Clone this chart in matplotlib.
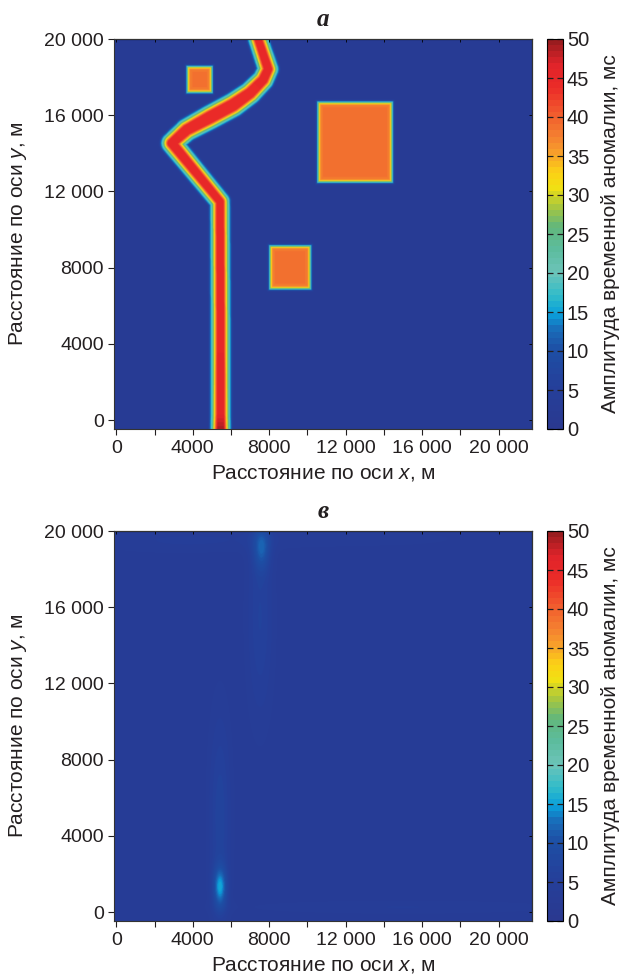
import numpy as np
import matplotlib
matplotlib.use('Agg')
import matplotlib.pyplot as plt
from matplotlib.colors import LinearSegmentedColormap

plt.rcParams['font.family'] = ['Liberation Sans', 'DejaVu Sans']
plt.rcParams['mathtext.fontset'] = 'custom'
plt.rcParams['mathtext.it'] = 'Liberation Sans:italic'
plt.rcParams['mathtext.rm'] = 'Liberation Sans'
TXT = '#231f20'

# extent of the grid, m
x_range = [-120, 21750]
y_range = [-470, 20000]

# ticks
tick_vals = [0, 4000, 8000, 12000, 16000, 20000]
tick_labels = ['0', '4000', '8000', '12 000', '16 000', '20 000']
minor_x = [2000, 6000, 10000, 14000, 18000]
cbar_ticks = [0, 5, 10, 15, 20, 25, 30, 35, 40, 45, 50]

# panel a: model - winding channel (centre line) and three blocks
river_x = [5450, 5450, 5450, 5420, 2900, 3680, 4900, 6110, 6990, 7680, 7940, 7420]
river_y = [-470, 300, 5000, 11470, 14540, 15240, 15900, 16550, 17170, 17870, 18430, 20000]
river_amp = [49, 46, 45, 45, 45, 44, 44, 44, 44, 45, 45, 45]
river_w = [680, 680, 680, 680, 720, 760, 800, 800, 760, 720, 700, 680]

rect_x0 = [3700, 10550, 8030]
rect_x1 = [5000, 14440, 10160]
rect_y0 = [17200, 12490, 6880]
rect_y1 = [18570, 16690, 9140]
rect_amp = [38.5, 38.5, 38.5]
bg_a = 3.0

# panel v: residual - weak blobs
blob_x = [5420, 5420, 7600, 7520, 15000, 3000, 12000]
blob_y = [1300, 5000, 19100, 15500, 250, 19500, 19600]
blob_sx = [240, 400, 300, 480, 6000, 3500, 6000]
blob_sy = [750, 3800, 800, 3800, 250, 500, 400]
blob_amp = [10.0, 3.5, 6.5, 3.0, 1.4, 1.2, 0.9]
bg_v = 3.3

# colormap
cm_vals = [0, 5, 10, 12.5, 14.5, 17, 20, 23, 26, 28.5, 31, 33, 35.5, 38, 41, 44, 47, 50]
cm_cols = ['#2a3990', '#253f9a', '#1d4fa5', '#1a6ab8', '#0a9fdb', '#31bcc9',
           '#6cc4b9', '#5cbc9d', '#62b77b', '#a6c640', '#f1e013', '#fcd116',
           '#f7a12b', '#f47c30', '#f0562d', '#ec2c28', '#e0232a', '#9a1c1f']
cmap = LinearSegmentedColormap.from_list(
    'anom', list(zip(np.array(cm_vals) / 50.0, cm_cols)), N=64)

gx = np.linspace(x_range[0], x_range[1], 800)
gy = np.linspace(y_range[0], y_range[1], 800)
X, Y = np.meshgrid(gx, gy)

# channel: distance to the centre polyline
dmin = np.full(X.shape, 1e9)
amp = np.zeros(X.shape)
wid = np.zeros(X.shape)
for i in range(len(river_x) - 1):
    x0, y0, x1, y1 = river_x[i], river_y[i], river_x[i + 1], river_y[i + 1]
    dx, dy = x1 - x0, y1 - y0
    t = np.clip(((X - x0) * dx + (Y - y0) * dy) / (dx * dx + dy * dy), 0, 1)
    d = np.hypot(X - (x0 + t * dx), Y - (y0 + t * dy))
    m = d < dmin
    dmin[m] = d[m]
    amp[m] = (river_amp[i] + t * (river_amp[i + 1] - river_amp[i]))[m]
    wid[m] = (river_w[i] + t * (river_w[i + 1] - river_w[i]))[m]
river = amp * np.clip((wid - dmin) / 520.0, 0, 1)

blocks = np.zeros(X.shape)
for x0, x1, y0, y1, a in zip(rect_x0, rect_x1, rect_y0, rect_y1, rect_amp):
    din = np.minimum.reduce([X - x0, x1 - X, Y - y0, y1 - Y])
    s = 1.0 / (1.0 + np.exp(-din / 60.0))
    blocks = np.maximum(blocks, s * (a + 3.5 * np.exp(-(np.clip(din, 0, None) / 160.0) ** 2)))

field_a = np.maximum(bg_a, np.maximum(river, blocks))

field_v = np.full(X.shape, bg_v)
for bx, by, sx, sy, a in zip(blob_x, blob_y, blob_sx, blob_sy, blob_amp):
    field_v += a * np.exp(-0.5 * (((X - bx) / sx) ** 2 + ((Y - by) / sy) ** 2))

fig = plt.figure(figsize=(6.21, 9.77), dpi=100)
W, H = 621.0, 977.0


def panel(field, top, title):
    ax = fig.add_axes([114 / W, 1 - (top + 390) / H, 418 / W, 390 / H])
    cax = fig.add_axes([546.7 / W, 1 - (top + 390) / H, 16 / W, 390 / H])
    im = ax.imshow(field, origin='lower', cmap=cmap, vmin=0, vmax=50,
                   extent=[x_range[0], x_range[1], y_range[0], y_range[1]],
                   aspect='auto', interpolation='bilinear')
    ax.set_xlim(x_range)
    ax.set_ylim(y_range)
    ax.set_xticks(tick_vals)
    ax.set_xticklabels(tick_labels)
    ax.set_xticks(minor_x, minor=True)
    ax.set_yticks(tick_vals)
    ax.set_yticklabels(tick_labels)
    ax.tick_params(which='both', direction='out', length=4.3, width=0.8,
                   labelsize=14, colors=TXT, pad=3)
    ax.tick_params(axis='x', which='both', pad=3.5)
    for sp in ax.spines.values():
        sp.set_linewidth(0.8)
        sp.set_color('#333333')
    sx = ax.secondary_xaxis('top')
    sx.set_xticks(tick_vals + minor_x)
    sx.tick_params(direction='in', length=2.5, width=0.6, labeltop=False)
    sy = ax.secondary_yaxis('right')
    sy.set_yticks(tick_vals)
    sy.tick_params(direction='in', length=2.5, width=0.6, labelright=False)

    cb = fig.colorbar(im, cax=cax, ticks=cbar_ticks)
    cb.ax.tick_params(direction='in', length=4.3, width=0.9, left=True, right=True,
                      labelsize=14.5, colors=TXT, pad=3)
    cb.outline.set_linewidth(0.8)

    mid = top + 195
    fig.text(18 / W, 1 - mid / H, 'Расстояние по оси $y$, м', rotation=90,
             ha='center', va='center', fontsize=15, color=TXT)
    fig.text(610 / W, 1 - mid / H, 'Амплитуда временной аномалии, мс', rotation=90,
             ha='center', va='center', fontsize=15, color=TXT)
    fig.text(323 / W, 1 - (top + 434) / H, 'Расстояние по оси $x$, м',
             ha='center', va='center', fontsize=15, color=TXT)
    fig.text(323 / W, 1 - (top - 20) / H, title, ha='center', va='center',
             fontsize=18, fontstyle='italic', fontweight='bold',
             family=['Liberation Serif', 'DejaVu Serif'], color=TXT)


panel(field_a, 39, 'а')
panel(field_v, 531, 'в')

fig.savefig('out.png', dpi=100)
